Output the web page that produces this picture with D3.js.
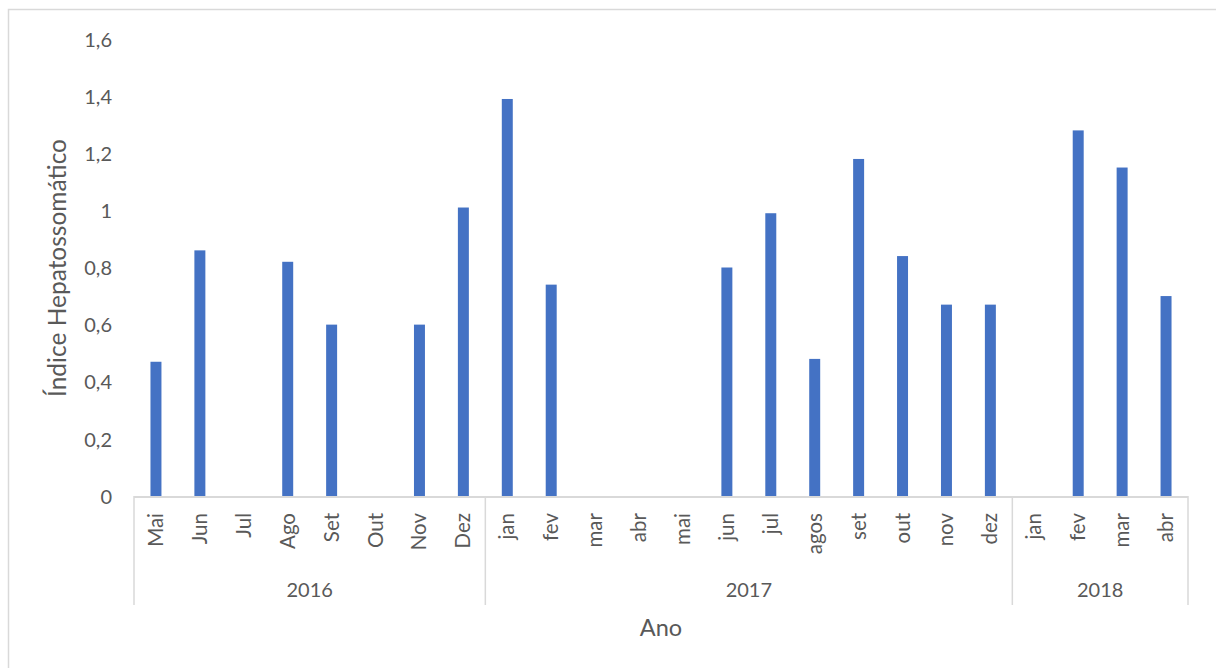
<!DOCTYPE html>
<html><head><meta charset="utf-8">
<script src="https://cdn.jsdelivr.net/npm/d3@7"></script>
<style>
html,body{margin:0;padding:0;background:#fff;}
svg{display:block;font-family:Lato, "Open Sans", sans-serif;}
</style></head>
<body>
<svg id="c" width="1216" height="668"></svg>
<script>
const months = ["Mai","Jun","Jul","Ago","Set","Out","Nov","Dez",
  "jan","fev","mar","abr","mai","jun","jul","agos","set","out","nov","dez",
  "jan","fev","mar","abr"];
const years = ["2016","2017","2018"];
const yearCounts = [8, 12, 4];
const values = [0.47,0.86,null,0.82,0.60,null,0.60,1.01,
  1.39,0.74,null,null,null,0.80,0.99,0.48,1.18,0.84,0.67,0.67,
  null,1.28,1.15,0.70];
const yTicks = [0,0.2,0.4,0.6,0.8,1,1.2,1.4,1.6];
const yTitle = "Índice Hepatossomático";
const xTitle = "Ano";

(function(){
const svg = d3.select("#c");
const pL = 134, pR = 1188, pT = 39, pB = 496;
const textColor = "#595959", lineColor = "#d9d9d9";

// chart frame
svg.append("rect").attr("x",8.5).attr("y",9.5).attr("width",1240).attr("height",700)
  .attr("fill","none").attr("stroke",lineColor).attr("stroke-width",1.5);

const keys = months.map((m,i)=>i);
const x = d3.scaleBand().domain(keys).range([pL,pR]).paddingInner(0.75).paddingOuter(0.375);
const xs = d3.scaleBand().domain(keys).range([pL,pR]).padding(0);
const y = d3.scaleLinear().domain([0,1.6]).range([pB,pT]);

// y tick labels
const yAxis = d3.axisLeft(y).tickValues(yTicks).tickSize(0).tickPadding(22)
  .tickFormat(d=>d3.format("~g")(d).replace(".",","));
const ga = svg.append("g").attr("transform",`translate(${pL},0)`).call(yAxis);
ga.select(".domain").remove();
ga.selectAll("text").attr("fill",textColor).style("font-size","20px").style("font-family","Lato, sans-serif").attr("dy","0.36em");

// bars
svg.append("g").selectAll("rect").data(values.map((v,i)=>({v,i})).filter(d=>d.v!=null))
  .enter().append("rect")
  .attr("x",d=>x(d.i)).attr("width",x.bandwidth())
  .attr("y",d=>y(d.v)).attr("height",d=>y(0)-y(d.v))
  .attr("fill","#4472C4");

// x axis line
svg.append("line").attr("x1",pL).attr("x2",pR).attr("y1",pB+1).attr("y2",pB+1)
  .attr("stroke",lineColor).attr("stroke-width",2);

// month labels
svg.append("g").selectAll("text").data(months).enter().append("text")
  .attr("transform",(d,i)=>`translate(${xs(i)+xs.bandwidth()/2+7},513) rotate(-90)`)
  .attr("text-anchor","end").attr("fill",textColor).style("font-size","20.5px")
  .text(d=>d);

// year separators and labels
let cum = 0;
const bounds = [0];
yearCounts.forEach(c=>{cum+=c; bounds.push(cum);});
const bx = b => b<months.length ? xs(b) : pR;
svg.append("g").selectAll("line").data(bounds).enter().append("line")
  .attr("x1",bx).attr("x2",bx)
  .attr("y1",pB).attr("y2",605)
  .attr("stroke",lineColor).attr("stroke-width",1.5);
svg.append("g").selectAll("text").data(years).enter().append("text")
  .attr("x",(d,i)=>(bx(bounds[i])+bx(bounds[i+1]))/2)
  .attr("y",597).attr("text-anchor","middle").attr("fill",textColor).style("font-size","20px")
  .text(d=>d);

// titles
svg.append("text").attr("x",(pL+pR)/2).attr("y",636).attr("text-anchor","middle")
  .attr("fill",textColor).style("font-size","23.5px").text(xTitle);
svg.append("text").attr("transform",`translate(66,268) rotate(-90)`).attr("text-anchor","middle")
  .attr("fill",textColor).style("font-size","24.5px").text(yTitle);
})();
</script>
</body></html>
